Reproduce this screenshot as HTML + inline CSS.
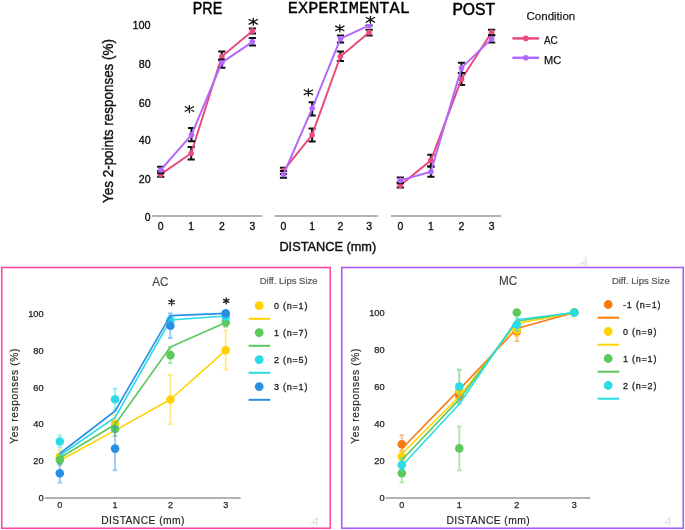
<!DOCTYPE html>
<html><head><meta charset="utf-8"><style>
html,body{margin:0;padding:0;background:#fff;}
body{width:685px;height:530px;overflow:hidden;font-family:"Liberation Sans",sans-serif;}
svg{display:block;will-change:transform;}
</style></head><body>
<svg width="685" height="530" viewBox="0 0 685 530">
<text x="192.8" y="14" font-size="17.2" fill="#000" font-family="Liberation Sans" textLength="29.4" lengthAdjust="spacingAndGlyphs" stroke="#000" stroke-width="0.5" >PRE</text>
<text x="287.8" y="12.9" font-size="17.4" fill="#000" font-family="Liberation Mono" textLength="122" lengthAdjust="spacingAndGlyphs" stroke="#000" stroke-width="0.35" >EXPERIMENTAL</text>
<text x="452.4" y="14.6" font-size="16.8" fill="#000" font-family="Liberation Sans" textLength="42.8" lengthAdjust="spacingAndGlyphs" stroke="#000" stroke-width="0.5" >POST</text>
<text x="150.6" y="221.0" font-size="11.6" fill="#111" font-family="Liberation Sans" text-anchor="end" textLength="5.8" lengthAdjust="spacingAndGlyphs" stroke="#111" stroke-width="0.35" >0</text>
<text x="150.6" y="183.1" font-size="11.6" fill="#111" font-family="Liberation Sans" text-anchor="end" textLength="11.9" lengthAdjust="spacingAndGlyphs" stroke="#111" stroke-width="0.35" >20</text>
<text x="150.6" y="143.9" font-size="11.6" fill="#111" font-family="Liberation Sans" text-anchor="end" textLength="11.9" lengthAdjust="spacingAndGlyphs" stroke="#111" stroke-width="0.35" >40</text>
<text x="150.6" y="106.6" font-size="11.6" fill="#111" font-family="Liberation Sans" text-anchor="end" textLength="11.9" lengthAdjust="spacingAndGlyphs" stroke="#111" stroke-width="0.35" >60</text>
<text x="150.6" y="67.65" font-size="11.6" fill="#111" font-family="Liberation Sans" text-anchor="end" textLength="11.9" lengthAdjust="spacingAndGlyphs" stroke="#111" stroke-width="0.35" >80</text>
<text x="150.6" y="29.15" font-size="11.6" fill="#111" font-family="Liberation Sans" text-anchor="end" textLength="18.1" lengthAdjust="spacingAndGlyphs" stroke="#111" stroke-width="0.35" >100</text>
<text x="113" y="121" font-size="14.5" fill="#111" font-family="Liberation Sans" text-anchor="middle" textLength="164" lengthAdjust="spacingAndGlyphs" transform="rotate(-90 113 121)" stroke="#111" stroke-width="0.4" >Yes 2-points responses (%)</text>
<line x1="152" y1="216" x2="262" y2="216" stroke="#9a9a9a" stroke-width="1.6"/>
<text x="160.7" y="230" font-size="11.6" fill="#111" font-family="Liberation Sans" text-anchor="middle" textLength="5.8" lengthAdjust="spacingAndGlyphs" stroke="#111" stroke-width="0.35" >0</text>
<text x="191.2" y="230" font-size="11.6" fill="#111" font-family="Liberation Sans" text-anchor="middle" textLength="5.8" lengthAdjust="spacingAndGlyphs" stroke="#111" stroke-width="0.35" >1</text>
<text x="221.8" y="230" font-size="11.6" fill="#111" font-family="Liberation Sans" text-anchor="middle" textLength="5.8" lengthAdjust="spacingAndGlyphs" stroke="#111" stroke-width="0.35" >2</text>
<text x="252.4" y="230" font-size="11.6" fill="#111" font-family="Liberation Sans" text-anchor="middle" textLength="5.8" lengthAdjust="spacingAndGlyphs" stroke="#111" stroke-width="0.35" >3</text>
<line x1="274.3" y1="216" x2="378.1" y2="216" stroke="#9a9a9a" stroke-width="1.6"/>
<text x="283.5" y="230" font-size="11.6" fill="#111" font-family="Liberation Sans" text-anchor="middle" textLength="5.8" lengthAdjust="spacingAndGlyphs" stroke="#111" stroke-width="0.35" >0</text>
<text x="312.1" y="230" font-size="11.6" fill="#111" font-family="Liberation Sans" text-anchor="middle" textLength="5.8" lengthAdjust="spacingAndGlyphs" stroke="#111" stroke-width="0.35" >1</text>
<text x="340.4" y="230" font-size="11.6" fill="#111" font-family="Liberation Sans" text-anchor="middle" textLength="5.8" lengthAdjust="spacingAndGlyphs" stroke="#111" stroke-width="0.35" >2</text>
<text x="369.1" y="230" font-size="11.6" fill="#111" font-family="Liberation Sans" text-anchor="middle" textLength="5.8" lengthAdjust="spacingAndGlyphs" stroke="#111" stroke-width="0.35" >3</text>
<line x1="391" y1="216" x2="501" y2="216" stroke="#9a9a9a" stroke-width="1.6"/>
<text x="400.3" y="230" font-size="11.6" fill="#111" font-family="Liberation Sans" text-anchor="middle" textLength="5.8" lengthAdjust="spacingAndGlyphs" stroke="#111" stroke-width="0.35" >0</text>
<text x="430.9" y="230" font-size="11.6" fill="#111" font-family="Liberation Sans" text-anchor="middle" textLength="5.8" lengthAdjust="spacingAndGlyphs" stroke="#111" stroke-width="0.35" >1</text>
<text x="461.5" y="230" font-size="11.6" fill="#111" font-family="Liberation Sans" text-anchor="middle" textLength="5.8" lengthAdjust="spacingAndGlyphs" stroke="#111" stroke-width="0.35" >2</text>
<text x="491.6" y="230" font-size="11.6" fill="#111" font-family="Liberation Sans" text-anchor="middle" textLength="5.8" lengthAdjust="spacingAndGlyphs" stroke="#111" stroke-width="0.35" >3</text>
<text x="279.4" y="250.7" font-size="13.6" fill="#111" font-family="Liberation Sans" textLength="96.8" lengthAdjust="spacingAndGlyphs" stroke="#111" stroke-width="0.45" >DISTANCE (mm)</text>
<defs><clipPath id="ct"><rect x="0" y="24" width="685" height="230"/></clipPath></defs>
<g clip-path="url(#ct)">
<path d="M160.7 171V176.8M157.1 171H164.29999999999998M157.1 176.8H164.29999999999998" stroke="#111" stroke-width="2" fill="none"/>
<path d="M191.2 147.1V159.5M187.6 147.1H194.79999999999998M187.6 159.5H194.79999999999998" stroke="#111" stroke-width="2" fill="none"/>
<path d="M221.8 51.6V60M218.20000000000002 51.6H225.4M218.20000000000002 60H225.4" stroke="#111" stroke-width="2" fill="none"/>
<path d="M252.4 28.4V33.4M248.8 28.4H256.0M248.8 33.4H256.0" stroke="#111" stroke-width="2" fill="none"/>
<path d="M160.7 174.4L191.2 153.2L221.8 56.5L252.4 30.9" stroke="#e94a82" stroke-width="2.0" fill="none" stroke-linejoin="round"/>
<circle cx="160.7" cy="174.4" r="2.8" fill="#e94a82"/>
<circle cx="191.2" cy="153.2" r="2.8" fill="#e94a82"/>
<circle cx="221.8" cy="56.5" r="2.8" fill="#e94a82"/>
<circle cx="252.4" cy="30.9" r="2.8" fill="#e94a82"/>
<path d="M160.7 166.7V173.3M157.1 166.7H164.29999999999998M157.1 173.3H164.29999999999998" stroke="#111" stroke-width="2" fill="none"/>
<path d="M191.5 128.1V141.2M187.9 128.1H195.1M187.9 141.2H195.1" stroke="#111" stroke-width="2" fill="none"/>
<path d="M221.8 59.6V67.7M218.20000000000002 59.6H225.4M218.20000000000002 67.7H225.4" stroke="#111" stroke-width="2" fill="none"/>
<path d="M252.4 38V45.6M248.8 38H256.0M248.8 45.6H256.0" stroke="#111" stroke-width="2" fill="none"/>
<path d="M160.7 170L191.5 134.9L221.8 62.7L252.4 41.8" stroke="#b368fd" stroke-width="2.0" fill="none" stroke-linejoin="round"/>
<circle cx="160.7" cy="170" r="2.8" fill="#b368fd"/>
<circle cx="191.5" cy="134.9" r="2.8" fill="#b368fd"/>
<circle cx="221.8" cy="62.7" r="2.8" fill="#b368fd"/>
<circle cx="252.4" cy="41.8" r="2.8" fill="#b368fd"/>
<path d="M283.5 167.7V174.1M279.9 167.7H287.1M279.9 174.1H287.1" stroke="#111" stroke-width="2" fill="none"/>
<path d="M312.1 128.5V141.5M308.5 128.5H315.70000000000005M308.5 141.5H315.70000000000005" stroke="#111" stroke-width="2" fill="none"/>
<path d="M340.4 51.5V61M336.79999999999995 51.5H344.0M336.79999999999995 61H344.0" stroke="#111" stroke-width="2" fill="none"/>
<path d="M369.1 29.7V35.4M365.5 29.7H372.70000000000005M365.5 35.4H372.70000000000005" stroke="#111" stroke-width="2" fill="none"/>
<path d="M283.5 170.6L312.1 134.9L340.4 56.5L369.1 32.4" stroke="#e94a82" stroke-width="2.0" fill="none" stroke-linejoin="round"/>
<circle cx="283.5" cy="170.6" r="2.8" fill="#e94a82"/>
<circle cx="312.1" cy="134.9" r="2.8" fill="#e94a82"/>
<circle cx="340.4" cy="56.5" r="2.8" fill="#e94a82"/>
<circle cx="369.1" cy="32.4" r="2.8" fill="#e94a82"/>
<path d="M283.5 171.1V177.8M279.9 171.1H287.1M279.9 177.8H287.1" stroke="#111" stroke-width="2" fill="none"/>
<path d="M312.2 102.2V115.4M308.59999999999997 102.2H315.8M308.59999999999997 115.4H315.8" stroke="#111" stroke-width="2" fill="none"/>
<path d="M340.5 35.4V42.5M336.9 35.4H344.1M336.9 42.5H344.1" stroke="#111" stroke-width="2" fill="none"/>
<path d="M369.1 22V25.4M365.5 22H372.70000000000005M365.5 25.4H372.70000000000005" stroke="#111" stroke-width="2" fill="none"/>
<path d="M283.5 174.5L312.2 108.3L340.5 38.6L369.1 25.4" stroke="#b368fd" stroke-width="2.0" fill="none" stroke-linejoin="round"/>
<circle cx="283.5" cy="174.5" r="2.8" fill="#b368fd"/>
<circle cx="312.2" cy="108.3" r="2.8" fill="#b368fd"/>
<circle cx="340.5" cy="38.6" r="2.8" fill="#b368fd"/>
<circle cx="369.1" cy="25.4" r="2.8" fill="#b368fd"/>
<path d="M400.3 182.5V187.5M396.7 182.5H403.90000000000003M396.7 187.5H403.90000000000003" stroke="#111" stroke-width="2" fill="none"/>
<path d="M430.9 154.7V166.6M427.29999999999995 154.7H434.5M427.29999999999995 166.6H434.5" stroke="#111" stroke-width="2" fill="none"/>
<path d="M461.5 73.1V85.1M457.9 73.1H465.1M457.9 85.1H465.1" stroke="#111" stroke-width="2" fill="none"/>
<path d="M491.6 29.8V35.2M488.0 29.8H495.20000000000005M488.0 35.2H495.20000000000005" stroke="#111" stroke-width="2" fill="none"/>
<path d="M400.3 185.3L430.9 160.4L461.5 79.2L491.6 32.3" stroke="#e94a82" stroke-width="2.0" fill="none" stroke-linejoin="round"/>
<circle cx="400.3" cy="185.3" r="2.8" fill="#e94a82"/>
<circle cx="430.9" cy="160.4" r="2.8" fill="#e94a82"/>
<circle cx="461.5" cy="79.2" r="2.8" fill="#e94a82"/>
<circle cx="491.6" cy="32.3" r="2.8" fill="#e94a82"/>
<path d="M400.3 177.4V183.2M396.7 177.4H403.90000000000003M396.7 183.2H403.90000000000003" stroke="#111" stroke-width="2" fill="none"/>
<path d="M430.9 166.6V176.8M427.29999999999995 166.6H434.5M427.29999999999995 176.8H434.5" stroke="#111" stroke-width="2" fill="none"/>
<path d="M461.5 62.7V73.1M457.9 62.7H465.1M457.9 73.1H465.1" stroke="#111" stroke-width="2" fill="none"/>
<path d="M491.6 35.3V42.6M488.0 35.3H495.20000000000005M488.0 42.6H495.20000000000005" stroke="#111" stroke-width="2" fill="none"/>
<path d="M400.3 180.4L430.9 171.7L461.5 67.9L491.6 38.9" stroke="#b368fd" stroke-width="2.0" fill="none" stroke-linejoin="round"/>
<circle cx="400.3" cy="180.4" r="2.8" fill="#b368fd"/>
<circle cx="430.9" cy="171.7" r="2.8" fill="#b368fd"/>
<circle cx="461.5" cy="67.9" r="2.8" fill="#b368fd"/>
<circle cx="491.6" cy="38.9" r="2.8" fill="#b368fd"/>
</g>
<path d="M189.4 105.50V112.50M185.20 106.70L193.60 111.30M185.20 111.30L193.60 106.70" stroke="#111" stroke-width="1.25" fill="none" stroke-linecap="round"/>
<path d="M253.3 18.30V25.30M249.10 19.50L257.50 24.10M249.10 24.10L257.50 19.50" stroke="#111" stroke-width="1.25" fill="none" stroke-linecap="round"/>
<path d="M308.4 88.80V95.80M304.20 90.00L312.60 94.60M304.20 94.60L312.60 90.00" stroke="#111" stroke-width="1.25" fill="none" stroke-linecap="round"/>
<path d="M339.8 24.90V31.90M335.60 26.10L344.00 30.70M335.60 30.70L344.00 26.10" stroke="#111" stroke-width="1.25" fill="none" stroke-linecap="round"/>
<path d="M370.4 16.30V23.30M366.20 17.50L374.60 22.10M366.20 22.10L374.60 17.50" stroke="#111" stroke-width="1.25" fill="none" stroke-linecap="round"/>
<text x="526.5" y="20.3" font-size="11.5" fill="#222" font-family="Liberation Sans" textLength="48.7" lengthAdjust="spacingAndGlyphs" stroke="#222" stroke-width="0.25" >Condition</text>
<line x1="512.4" y1="38.4" x2="539.1" y2="38.4" stroke="#e94a82" stroke-width="2.5"/>
<circle cx="525.8" cy="38.4" r="2.8" fill="#e94a82"/>
<text x="544" y="44.3" font-size="11.5" fill="#111" font-family="Liberation Sans" textLength="13.8" lengthAdjust="spacingAndGlyphs" stroke="#111" stroke-width="0.25" >AC</text>
<line x1="512.4" y1="57.8" x2="539.1" y2="57.8" stroke="#b368fd" stroke-width="2.5"/>
<circle cx="525.8" cy="57.8" r="2.8" fill="#b368fd"/>
<text x="544" y="63.699999999999996" font-size="11.5" fill="#111" font-family="Liberation Sans" textLength="17.2" lengthAdjust="spacingAndGlyphs" stroke="#111" stroke-width="0.25" >MC</text>
<rect x="1.75" y="267.5" width="328.5" height="260.75" fill="none" stroke="#ff48a4" stroke-width="1.6"/>
<rect x="341.75" y="267.5" width="341.5" height="260.75" fill="none" stroke="#aa5cf8" stroke-width="1.6"/>
<text x="152.3" y="286.1" font-size="12.4" fill="#444" font-family="Liberation Sans" textLength="16.2" lengthAdjust="spacingAndGlyphs" stroke="#444" stroke-width="0.15" >AC</text>
<text x="259.7" y="284.3" font-size="8.6" fill="#555" font-family="Liberation Sans" textLength="57.9" lengthAdjust="spacingAndGlyphs" stroke="#555" stroke-width="0.2" >Diff. Lips Size</text>
<text x="43.6" y="501.4" font-size="8.5" fill="#222" font-family="Liberation Sans" text-anchor="end" textLength="5.2" lengthAdjust="spacingAndGlyphs" stroke="#222" stroke-width="0.25" >0</text>
<text x="43.6" y="464.44" font-size="8.5" fill="#222" font-family="Liberation Sans" text-anchor="end" textLength="10.3" lengthAdjust="spacingAndGlyphs" stroke="#222" stroke-width="0.25" >20</text>
<text x="43.6" y="427.48" font-size="8.5" fill="#222" font-family="Liberation Sans" text-anchor="end" textLength="10.3" lengthAdjust="spacingAndGlyphs" stroke="#222" stroke-width="0.25" >40</text>
<text x="43.6" y="390.52" font-size="8.5" fill="#222" font-family="Liberation Sans" text-anchor="end" textLength="10.3" lengthAdjust="spacingAndGlyphs" stroke="#222" stroke-width="0.25" >60</text>
<text x="43.6" y="353.56" font-size="8.5" fill="#222" font-family="Liberation Sans" text-anchor="end" textLength="10.3" lengthAdjust="spacingAndGlyphs" stroke="#222" stroke-width="0.25" >80</text>
<text x="43.6" y="316.6" font-size="8.5" fill="#222" font-family="Liberation Sans" text-anchor="end" textLength="15.4" lengthAdjust="spacingAndGlyphs" stroke="#222" stroke-width="0.25" >100</text>
<text x="17.6" y="396.2" font-size="10.2" fill="#222" font-family="Liberation Sans" text-anchor="middle" textLength="95" lengthAdjust="spacing" transform="rotate(-90 17.6 396.2)" stroke="#222" stroke-width="0.15" >Yes responses (%)</text>
<line x1="44.8" y1="498" x2="240.7" y2="498" stroke="#999" stroke-width="1.4"/>
<text x="59.8" y="507.6" font-size="9" fill="#222" font-family="Liberation Sans" text-anchor="middle" stroke="#222" stroke-width="0.25" >0</text>
<text x="115.1" y="507.6" font-size="9" fill="#222" font-family="Liberation Sans" text-anchor="middle" stroke="#222" stroke-width="0.25" >1</text>
<text x="170.39999999999998" y="507.6" font-size="9" fill="#222" font-family="Liberation Sans" text-anchor="middle" stroke="#222" stroke-width="0.25" >2</text>
<text x="225.7" y="507.6" font-size="9" fill="#222" font-family="Liberation Sans" text-anchor="middle" stroke="#222" stroke-width="0.25" >3</text>
<text x="142.8" y="524.2" font-size="10.3" fill="#222" font-family="Liberation Sans" text-anchor="middle" textLength="83.2" lengthAdjust="spacing" stroke="#222" stroke-width="0.15" >DISTANCE (mm)</text>
<path d="M59.80 460.5L115.10 430.4L170.40 399.5L225.70 350.3" stroke="#ffd200" stroke-width="1.6" fill="none" stroke-linejoin="round"/>
<circle cx="59.80" cy="456.5" r="4.3" fill="#ffd200"/>
<circle cx="115.10" cy="423.7" r="4.3" fill="#ffd200"/>
<circle cx="170.40" cy="399.5" r="4.3" fill="#ffd200"/>
<circle cx="225.70" cy="350.3" r="4.3" fill="#ffd200"/>
<path d="M59.8 450V463M57.5 450H62.099999999999994M57.5 463H62.099999999999994" stroke="#ffd200" stroke-opacity="0.5" stroke-width="1.8" fill="none"/>
<path d="M115 415V432M112.7 415H117.3M112.7 432H117.3" stroke="#ffd200" stroke-opacity="0.5" stroke-width="1.8" fill="none"/>
<path d="M170.3 374.8V424.1M168.0 374.8H172.60000000000002M168.0 424.1H172.60000000000002" stroke="#ffd200" stroke-opacity="0.5" stroke-width="1.8" fill="none"/>
<path d="M225.7 330.4V369.6M223.39999999999998 330.4H228.0M223.39999999999998 369.6H228.0" stroke="#ffd200" stroke-opacity="0.5" stroke-width="1.8" fill="none"/>
<path d="M59.80 458L115.10 424.5L170.40 347L225.70 322.4" stroke="#5cc95c" stroke-width="1.6" fill="none" stroke-linejoin="round"/>
<circle cx="59.80" cy="460" r="4.3" fill="#5cc95c"/>
<circle cx="115.10" cy="429" r="4.3" fill="#5cc95c"/>
<circle cx="170.40" cy="355.1" r="4.3" fill="#5cc95c"/>
<circle cx="225.70" cy="322.4" r="4.3" fill="#5cc95c"/>
<path d="M59.8 455V465M57.5 455H62.099999999999994M57.5 465H62.099999999999994" stroke="#5cc95c" stroke-opacity="0.5" stroke-width="1.8" fill="none"/>
<path d="M115 422V436M112.7 422H117.3M112.7 436H117.3" stroke="#5cc95c" stroke-opacity="0.5" stroke-width="1.8" fill="none"/>
<path d="M170.3 347V363.1M168.0 347H172.60000000000002M168.0 363.1H172.60000000000002" stroke="#5cc95c" stroke-opacity="0.5" stroke-width="1.8" fill="none"/>
<path d="M225.7 318V327M223.39999999999998 318H228.0M223.39999999999998 327H228.0" stroke="#5cc95c" stroke-opacity="0.5" stroke-width="1.8" fill="none"/>
<path d="M59.80 455.5L115.10 417.3L170.40 320L225.70 316" stroke="#2bdbe6" stroke-width="1.6" fill="none" stroke-linejoin="round"/>
<circle cx="59.80" cy="441.5" r="4.3" fill="#2bdbe6"/>
<circle cx="115.10" cy="399.3" r="4.3" fill="#2bdbe6"/>
<circle cx="170.40" cy="320.2" r="4.3" fill="#2bdbe6"/>
<circle cx="225.70" cy="316.4" r="4.3" fill="#2bdbe6"/>
<path d="M59.8 435.4V447.6M57.5 435.4H62.099999999999994M57.5 447.6H62.099999999999994" stroke="#2bdbe6" stroke-opacity="0.5" stroke-width="1.8" fill="none"/>
<path d="M115 388.7V410M112.7 388.7H117.3M112.7 410H117.3" stroke="#2bdbe6" stroke-opacity="0.5" stroke-width="1.8" fill="none"/>
<path d="M170.3 316V325M168.0 316H172.60000000000002M168.0 325H172.60000000000002" stroke="#2bdbe6" stroke-opacity="0.5" stroke-width="1.8" fill="none"/>
<path d="M59.80 453.5L115.10 411L170.40 315.6L225.70 313.4" stroke="#2a8fe4" stroke-width="1.6" fill="none" stroke-linejoin="round"/>
<circle cx="59.80" cy="473.3" r="4.3" fill="#2a8fe4"/>
<circle cx="115.10" cy="448.6" r="4.3" fill="#2a8fe4"/>
<circle cx="170.40" cy="325.7" r="4.3" fill="#2a8fe4"/>
<circle cx="225.70" cy="313.4" r="4.3" fill="#2a8fe4"/>
<path d="M59.8 463.8V482.7M57.5 463.8H62.099999999999994M57.5 482.7H62.099999999999994" stroke="#2a8fe4" stroke-opacity="0.5" stroke-width="1.8" fill="none"/>
<path d="M115 426.8V470.4M112.7 426.8H117.3M112.7 470.4H117.3" stroke="#2a8fe4" stroke-opacity="0.5" stroke-width="1.8" fill="none"/>
<path d="M170.3 313.4V338M168.0 313.4H172.60000000000002M168.0 338H172.60000000000002" stroke="#2a8fe4" stroke-opacity="0.5" stroke-width="1.8" fill="none"/>
<circle cx="259.2" cy="305.6" r="4.4" fill="#ffd200"/>
<text x="274.0" y="308.8" font-size="9" fill="#222" font-family="Liberation Sans" textLength="33.4" lengthAdjust="spacing" stroke="#222" stroke-width="0.3" >0 (n=1)</text>
<line x1="248.6" y1="318.8" x2="270.2" y2="318.8" stroke="#ffd200" stroke-width="2"/>
<circle cx="259.2" cy="332.6" r="4.4" fill="#5cc95c"/>
<text x="274.0" y="335.8" font-size="9" fill="#222" font-family="Liberation Sans" textLength="33.4" lengthAdjust="spacing" stroke="#222" stroke-width="0.3" >1 (n=7)</text>
<line x1="248.6" y1="345.8" x2="270.2" y2="345.8" stroke="#5cc95c" stroke-width="2"/>
<circle cx="259.2" cy="359.6" r="4.4" fill="#2bdbe6"/>
<text x="274.0" y="362.8" font-size="9" fill="#222" font-family="Liberation Sans" textLength="33.4" lengthAdjust="spacing" stroke="#222" stroke-width="0.3" >2 (n=5)</text>
<line x1="248.6" y1="372.8" x2="270.2" y2="372.8" stroke="#2bdbe6" stroke-width="2"/>
<circle cx="259.2" cy="386.6" r="4.4" fill="#2a8fe4"/>
<text x="274.0" y="389.8" font-size="9" fill="#222" font-family="Liberation Sans" textLength="33.4" lengthAdjust="spacing" stroke="#222" stroke-width="0.3" >3 (n=1)</text>
<line x1="248.6" y1="399.8" x2="270.2" y2="399.8" stroke="#2a8fe4" stroke-width="2"/>
<path d="M171.6 299.20V305.20M168.90 300.70L174.30 303.70M168.90 303.70L174.30 300.70" stroke="#222" stroke-width="1.35" fill="none" stroke-linecap="round"/>
<path d="M226.2 297.90V303.90M223.50 299.40L228.90 302.40M223.50 302.40L228.90 299.40" stroke="#222" stroke-width="1.35" fill="none" stroke-linecap="round"/>
<text x="498.9" y="285.2" font-size="12.4" fill="#444" font-family="Liberation Sans" textLength="18.2" lengthAdjust="spacingAndGlyphs" stroke="#444" stroke-width="0.15" >MC</text>
<text x="611.9" y="284.3" font-size="8.6" fill="#555" font-family="Liberation Sans" textLength="57.9" lengthAdjust="spacingAndGlyphs" stroke="#555" stroke-width="0.2" >Diff. Lips Size</text>
<text x="384.6" y="500.6" font-size="8.5" fill="#222" font-family="Liberation Sans" text-anchor="end" textLength="5.2" lengthAdjust="spacingAndGlyphs" stroke="#222" stroke-width="0.25" >0</text>
<text x="384.6" y="463.64" font-size="8.5" fill="#222" font-family="Liberation Sans" text-anchor="end" textLength="10.3" lengthAdjust="spacingAndGlyphs" stroke="#222" stroke-width="0.25" >20</text>
<text x="384.6" y="426.68" font-size="8.5" fill="#222" font-family="Liberation Sans" text-anchor="end" textLength="10.3" lengthAdjust="spacingAndGlyphs" stroke="#222" stroke-width="0.25" >40</text>
<text x="384.6" y="389.72" font-size="8.5" fill="#222" font-family="Liberation Sans" text-anchor="end" textLength="10.3" lengthAdjust="spacingAndGlyphs" stroke="#222" stroke-width="0.25" >60</text>
<text x="384.6" y="352.76" font-size="8.5" fill="#222" font-family="Liberation Sans" text-anchor="end" textLength="10.3" lengthAdjust="spacingAndGlyphs" stroke="#222" stroke-width="0.25" >80</text>
<text x="384.6" y="315.8" font-size="8.5" fill="#222" font-family="Liberation Sans" text-anchor="end" textLength="15.4" lengthAdjust="spacingAndGlyphs" stroke="#222" stroke-width="0.25" >100</text>
<text x="358.6" y="396.2" font-size="10.2" fill="#222" font-family="Liberation Sans" text-anchor="middle" textLength="95" lengthAdjust="spacing" transform="rotate(-90 358.6 396.2)" stroke="#222" stroke-width="0.15" >Yes responses (%)</text>
<line x1="385.8" y1="498" x2="590.3" y2="498" stroke="#999" stroke-width="1.4"/>
<text x="401.8" y="507.6" font-size="9" fill="#222" font-family="Liberation Sans" text-anchor="middle" stroke="#222" stroke-width="0.25" >0</text>
<text x="459.3" y="507.6" font-size="9" fill="#222" font-family="Liberation Sans" text-anchor="middle" stroke="#222" stroke-width="0.25" >1</text>
<text x="516.8" y="507.6" font-size="9" fill="#222" font-family="Liberation Sans" text-anchor="middle" stroke="#222" stroke-width="0.25" >2</text>
<text x="574.3" y="507.6" font-size="9" fill="#222" font-family="Liberation Sans" text-anchor="middle" stroke="#222" stroke-width="0.25" >3</text>
<text x="488.0" y="524.2" font-size="10.3" fill="#222" font-family="Liberation Sans" text-anchor="middle" textLength="83.2" lengthAdjust="spacing" stroke="#222" stroke-width="0.15" >DISTANCE (mm)</text>
<path d="M401.80 448.7L459.30 389.6L516.80 328.6L574.30 312.5" stroke="#fb7a10" stroke-width="1.6" fill="none" stroke-linejoin="round"/>
<circle cx="401.80" cy="444.2" r="4.3" fill="#fb7a10"/>
<circle cx="459.30" cy="396" r="4.3" fill="#fb7a10"/>
<circle cx="516.80" cy="331.5" r="4.3" fill="#fb7a10"/>
<circle cx="574.30" cy="312.5" r="4.3" fill="#fb7a10"/>
<path d="M401.8 435.1V451M399.5 435.1H404.1M399.5 451H404.1" stroke="#fb7a10" stroke-opacity="0.5" stroke-width="1.8" fill="none"/>
<path d="M459.3 392V400.5M457.0 392H461.6M457.0 400.5H461.6" stroke="#fb7a10" stroke-opacity="0.5" stroke-width="1.8" fill="none"/>
<path d="M516.8 321.7V341.2M514.5 321.7H519.0999999999999M514.5 341.2H519.0999999999999" stroke="#fb7a10" stroke-opacity="0.5" stroke-width="1.8" fill="none"/>
<path d="M401.80 454L459.30 396.5L516.80 323.5L574.30 312.5" stroke="#ffd200" stroke-width="1.6" fill="none" stroke-linejoin="round"/>
<circle cx="401.80" cy="456.6" r="4.3" fill="#ffd200"/>
<circle cx="459.30" cy="390.5" r="4.3" fill="#ffd200"/>
<circle cx="516.80" cy="330" r="4.3" fill="#ffd200"/>
<circle cx="574.30" cy="312.5" r="4.3" fill="#ffd200"/>
<path d="M401.8 450V463M399.5 450H404.1M399.5 463H404.1" stroke="#ffd200" stroke-opacity="0.5" stroke-width="1.8" fill="none"/>
<path d="M459.3 370V403.6M457.0 370H461.6M457.0 403.6H461.6" stroke="#ffd200" stroke-opacity="0.5" stroke-width="1.8" fill="none"/>
<path d="M516.8 324V336M514.5 324H519.0999999999999M514.5 336H519.0999999999999" stroke="#ffd200" stroke-opacity="0.5" stroke-width="1.8" fill="none"/>
<path d="M401.80 460L459.30 399.4L516.80 321.3L574.30 312.5" stroke="#5cc95c" stroke-width="1.6" fill="none" stroke-linejoin="round"/>
<circle cx="401.80" cy="473.1" r="4.3" fill="#5cc95c"/>
<circle cx="459.30" cy="448.4" r="4.3" fill="#5cc95c"/>
<circle cx="516.80" cy="312.5" r="4.3" fill="#5cc95c"/>
<circle cx="574.30" cy="312.5" r="4.3" fill="#5cc95c"/>
<path d="M401.8 463.8V482.4M399.5 463.8H404.1M399.5 482.4H404.1" stroke="#5cc95c" stroke-opacity="0.5" stroke-width="1.8" fill="none"/>
<path d="M459.3 426.4V470.4M457.0 426.4H461.6M457.0 470.4H461.6" stroke="#5cc95c" stroke-opacity="0.5" stroke-width="1.8" fill="none"/>
<path d="M401.80 466L459.30 404L516.80 319.8L574.30 312.5" stroke="#2bdbe6" stroke-width="1.6" fill="none" stroke-linejoin="round"/>
<circle cx="401.80" cy="464.9" r="4.3" fill="#2bdbe6"/>
<circle cx="459.30" cy="386.5" r="4.3" fill="#2bdbe6"/>
<circle cx="516.80" cy="324.7" r="4.3" fill="#2bdbe6"/>
<circle cx="574.30" cy="312.5" r="4.3" fill="#2bdbe6"/>
<path d="M401.8 458V471M399.5 458H404.1M399.5 471H404.1" stroke="#2bdbe6" stroke-opacity="0.5" stroke-width="1.8" fill="none"/>
<path d="M459.3 369.5V403.4M457.0 369.5H461.6M457.0 403.4H461.6" stroke="#2bdbe6" stroke-opacity="0.5" stroke-width="1.8" fill="none"/>
<path d="M516.8 318V331M514.5 318H519.0999999999999M514.5 331H519.0999999999999" stroke="#2bdbe6" stroke-opacity="0.5" stroke-width="1.8" fill="none"/>
<circle cx="608.2" cy="304.5" r="4.4" fill="#fb7a10"/>
<text x="623.0" y="307.7" font-size="9" fill="#222" font-family="Liberation Sans" textLength="37.5" lengthAdjust="spacing" stroke="#222" stroke-width="0.3" >-1 (n=1)</text>
<line x1="597.6" y1="317.7" x2="619.2" y2="317.7" stroke="#fb7a10" stroke-width="2"/>
<circle cx="608.2" cy="331.5" r="4.4" fill="#ffd200"/>
<text x="623.0" y="334.7" font-size="9" fill="#222" font-family="Liberation Sans" textLength="33.4" lengthAdjust="spacing" stroke="#222" stroke-width="0.3" >0 (n=9)</text>
<line x1="597.6" y1="344.7" x2="619.2" y2="344.7" stroke="#ffd200" stroke-width="2"/>
<circle cx="608.2" cy="358.5" r="4.4" fill="#5cc95c"/>
<text x="623.0" y="361.7" font-size="9" fill="#222" font-family="Liberation Sans" textLength="33.4" lengthAdjust="spacing" stroke="#222" stroke-width="0.3" >1 (n=1)</text>
<line x1="597.6" y1="371.7" x2="619.2" y2="371.7" stroke="#5cc95c" stroke-width="2"/>
<circle cx="608.2" cy="385.5" r="4.4" fill="#2bdbe6"/>
<text x="623.0" y="388.7" font-size="9" fill="#222" font-family="Liberation Sans" textLength="33.4" lengthAdjust="spacing" stroke="#222" stroke-width="0.3" >2 (n=2)</text>
<line x1="597.6" y1="398.7" x2="619.2" y2="398.7" stroke="#2bdbe6" stroke-width="2"/>
<polygon points="576.4,266 587.2,254.6 587.2,266" fill="#f5f5f5"/>
<rect x="585.0" y="259.9" width="1.2" height="1.2" fill="#c4c4c4"/>
<rect x="585.0" y="262.4" width="1.2" height="1.2" fill="#c4c4c4"/>
<rect x="585.0" y="264.6" width="1.2" height="1.2" fill="#c4c4c4"/>
<rect x="581.8" y="262.9" width="1.2" height="1.2" fill="#c4c4c4"/>
<polygon points="307.6,524.9 318.1,515.5 318.1,524.9" fill="#f5f5f5"/>
<rect x="315.9" y="518.8" width="1.2" height="1.2" fill="#c4c4c4"/>
<rect x="315.9" y="521.3" width="1.2" height="1.2" fill="#c4c4c4"/>
<rect x="315.9" y="523.5" width="1.2" height="1.2" fill="#c4c4c4"/>
<rect x="312.7" y="521.8" width="1.2" height="1.2" fill="#c4c4c4"/>
<polygon points="661.3,524.8 670.8,515 670.8,524.8" fill="#f5f5f5"/>
<rect x="668.6" y="518.7" width="1.2" height="1.2" fill="#c4c4c4"/>
<rect x="668.6" y="521.2" width="1.2" height="1.2" fill="#c4c4c4"/>
<rect x="668.6" y="523.4" width="1.2" height="1.2" fill="#c4c4c4"/>
<rect x="665.4" y="521.7" width="1.2" height="1.2" fill="#c4c4c4"/>
</svg>
</body></html>
